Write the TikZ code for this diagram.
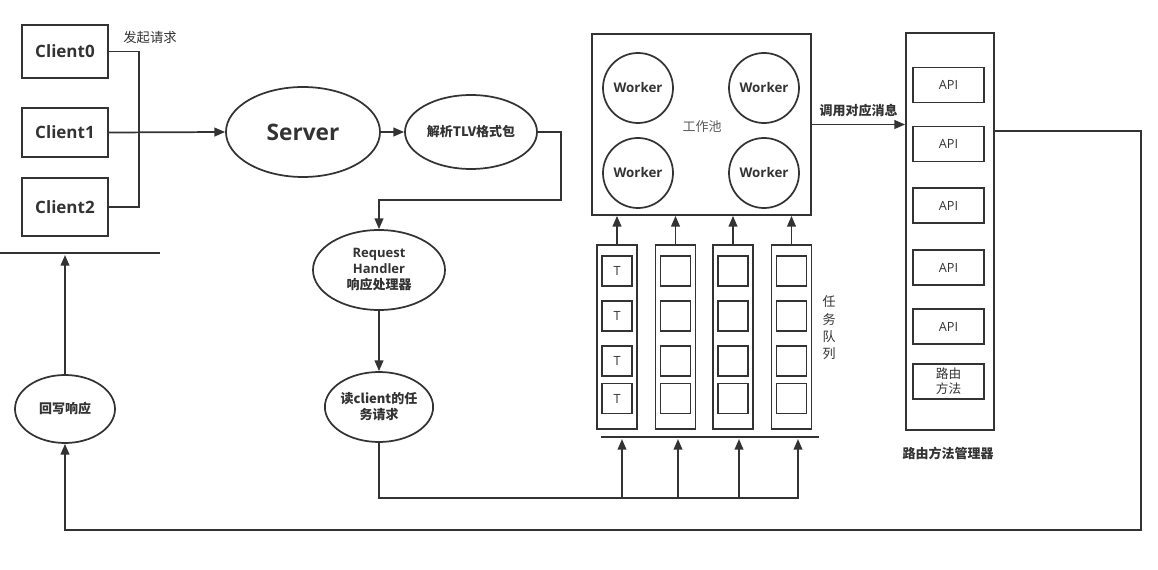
\documentclass[tikz,border=0pt]{standalone}
\usepackage{fontspec}
\setmainfont{Open Sans}
\newfontfamily\cjk{Noto Sans CJK SC}
\usepackage{tikz}
\usetikzlibrary{calc}
\usetikzlibrary{positioning}
\usetikzlibrary{arrows.meta}
\usetikzlibrary{shapes.geometric}

\tikzset{
  ln/.style={draw=black!80, line width=1.3pt},
  arr/.style={ln, -{Triangle[length=8pt,width=6.5pt]}},
  box/.style={ln, rectangle, inner sep=0pt, text=black!80},
  oval/.style={ln, ellipse, inner sep=0pt, align=center, text=black!80},
  txt/.style={inner sep=0pt, text=black!80, align=center},
  small/.style={font=\cjk\bfseries\fontsize{9.75}{12}\selectfont},
}

\begin{document}
\begin{tikzpicture}[x=0.75pt,y=-0.75pt]
      \useasboundingbox (0,0) rectangle (1158,570);
      % clients
      \node[box, minimum width=64.5pt, minimum height=39.75pt, font=\bfseries\fontsize{12.75}{15}\selectfont] (c0) at (65,51.5) {Client0};
      \node[box, minimum width=64.5pt, minimum height=36.75pt, font=\bfseries\fontsize{12.75}{15}\selectfont] (c1) at (65,132.5) {Client1};
      \node[box, minimum width=64.5pt, minimum height=43.5pt, font=\bfseries\fontsize{12.75}{15}\selectfont] (c2) at (65,207) {Client2};
      \node[txt, font=\cjk\fontsize{10}{12}\selectfont] (req) at (150,37) {发起请求};
      \draw (0,253) -- (160,253) [ln];
      \coordinate (base) at (65,255);
      \coordinate (fork) at (139,133);

      \node[oval, minimum width=115.5pt, minimum height=67.5pt, font=\bfseries\fontsize{17}{20}\selectfont] (srv) at (303,132) {Server};
      \node[oval, minimum width=99pt, minimum height=55.5pt, small] (tlv) at (471,132) {解析TLV格式包};
      \node[oval, minimum width=99pt, minimum height=60pt, font=\bfseries\fontsize{9.75}{12}\selectfont] (rh) at (379,270) {Request\\Handler\\{\cjk 响应处理器}};
      \node[oval, minimum width=75pt, minimum height=52.5pt, small] (rd) at (379,407) {读client的任\\务请求};
      \node[oval, minimum width=75pt, minimum height=51pt, small] (wb) at (65,409) {回写响应};

      \draw[ln] (c0.east) -| (fork);
      \draw[ln] (c2.east) -| (fork);
      \draw[arr] (c1.east) -- (srv.west);
      \draw[arr] (srv.east) -- (tlv.west);
      \draw[arr] (tlv.east) -- ++(23,0) -- ++(0,68) -| (rh.north);
      \draw[arr] (rh.south) -- (rd.south |- rd.north);
      \draw[arr] (wb.north) -- (base);

      % worker pool
      \node[box, minimum width=164.25pt, minimum height=135.75pt] (pool) at (701.5,124.5) {};
      \foreach \n/\x/\y in {w1/638/88,w2/764/88,w3/638/173,w4/764/173}
        \node[ln, circle, minimum size=52.5pt, inner sep=0pt, text=black!80, font=\bfseries\fontsize{10}{12}\selectfont] (\n) at (\x,\y) {Worker};
      \node[txt, text=black!65, font=\cjk\fontsize{9.75}{12}\selectfont] (pname) at (702,127) {工作池};

      % task queues
      \draw[ln] (601,437) -- (819,437);
      \foreach \i/\x in {1/617,2/675.5,3/733,4/791.5} {
        \node[box, minimum width=30pt, minimum height=138pt] (q\i) at (\x,337) {};
        \foreach \j/\y in {1/271,2/316,3/361,4/398.5}
          \node[box, minimum width=22.5pt, minimum height=22.5pt, font=\fontsize{9.5}{11}\selectfont] (t\i\j) at (\x,\y) {\ifnum\i=1 T\fi};
        \draw[arr] (q\i.north) -- (q\i.north |- pool.south);
      }
      \foreach \x in {622,678,739,798}
        \draw[arr] (rd.south) |- (\x,498) -- (\x,439);
      \node[txt, font=\cjk\fontsize{9.75}{13}\selectfont] (qname) at (829,328) {任\\务\\队\\列};

      % router
      \node[box, minimum width=66pt, minimum height=297.75pt] (rt) at (950,231.5) {};
      \foreach \n/\y in {a1/85,a2/144,a3/205.5,a4/267.5,a5/326.5}
        \node[box, minimum width=53.25pt, minimum height=26.25pt, font=\fontsize{9.5}{11}\selectfont] (\n) at (948.5,\y) {API};
      \node[box, minimum width=53.25pt, minimum height=26.25pt, align=center, font=\cjk\fontsize{9.5}{11}\selectfont] (a6) at (948.5,381.5) {路由\\方法};
      \node[txt, small] (rname) at (948,453) {路由方法管理器};

      \draw[arr] (pool.east) -- (pool.east -| rt.west) node[midway, above=5pt, txt, small] (call) {调用对应消息};
      \coordinate (ret) at (994,131);
      \draw[arr] (ret) -| (1141,530) -| (wb.south);
    \end{tikzpicture}
\end{document}
